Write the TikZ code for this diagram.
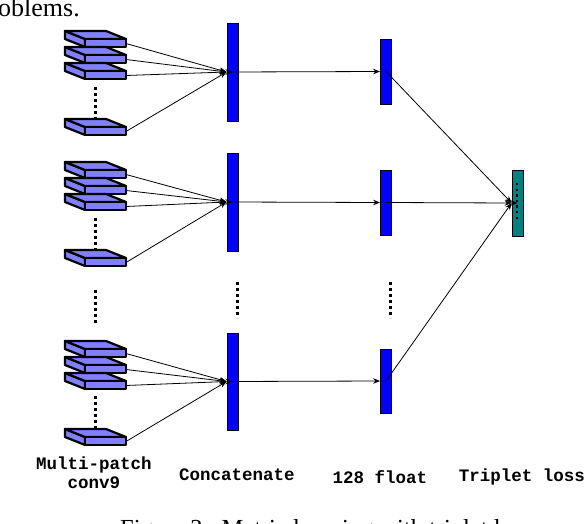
\documentclass[tikz,border=0pt]{standalone}
\usepackage{fontspec}
\setmainfont{Liberation Serif}
\setmonofont{Liberation Mono}
\usetikzlibrary{arrows.meta}

\definecolor{slabblue}{HTML}{8080FF}
\definecolor{barblue}{HTML}{0000FF}
\definecolor{lossteal}{HTML}{008080}

\tikzset{
	slab/.style={fill=slabblue, draw=black, line width=2.2pt, line join=round},
	catbar/.style={draw=black, fill=barblue, line width=0.8pt, inner sep=0pt, minimum width=11pt},
	lossbar/.style={draw=black, fill=lossteal, line width=0.8pt, inner sep=0pt, minimum width=11pt, minimum height=66pt},
	link/.style={->, line width=0.8pt},
	dotcol/.style={line width=3pt, dash pattern=on 3pt off 3pt},
	label/.style={font=\ttfamily\bfseries\fontsize{17.5}{19}\selectfont, align=center},
}

\begin{document}
\begin{tikzpicture}[x=1pt, y=-1pt, >={Stealth[length=7pt,width=5.5pt]}]
	\useasboundingbox (0, 0) rectangle (586, 524);
	\clip (0, 0) rectangle (586, 524);

	% page text cut off above and below
	\node [anchor=base west, inner sep=0pt, font=\fontsize{26}{26}\selectfont] (prev) at (-2, 17) {oblems.};
	\node [anchor=base west, inner sep=0pt, font=\fontsize{24.5}{26}\selectfont] (cap) at (120, 536) {Figure 2:\enspace Metric learning with triplet loss};

	% multi-patch conv9 slabs
	\foreach \t in {39, 55, 71, 127, 170, 186, 202, 258, 349, 365, 381, 437} {
		\filldraw [slab] (65, \t-8) -- (85, \t) -- (85, \t+8) -- (65, \t) -- cycle;
		\filldraw [slab] (65, \t-8) -- (106, \t-8) -- (126, \t) -- (85, \t) -- cycle;
		\filldraw [slab] (85, \t) rectangle (126, \t+8);
		\coordinate (s\t) at (126, \t+4.5);
	}
	\draw [dotcol] (95, 87) -- (95, 118);
	\draw [dotcol] (95, 218) -- (95, 249);
	\draw [dotcol] (95, 396) -- (95, 429);
	\draw [dotcol] (95, 290) -- (95, 326);

	% bars
	\node [catbar, minimum height=98pt] (cat1) at (232.5, 72) {};
	\node [catbar, minimum height=98pt] (cat2) at (232.5, 202) {};
	\node [catbar, minimum height=97pt] (cat3) at (232.5, 381.5) {};
	\node [catbar, minimum height=65pt] (flt1) at (386, 71.5) {};
	\node [catbar, minimum height=65pt] (flt2) at (386, 202.5) {};
	\node [catbar, minimum height=64pt] (flt3) at (386, 381) {};
	\node [lossbar] (trip) at (517.5, 203) {};
	\draw [dotcol] (237, 282) -- (237, 318);
	\draw [dotcol] (390, 282) -- (390, 318);
	\draw [line width=2.4pt, dash pattern=on 2.4pt off 3.2pt] (517, 183) -- (517, 219);

	% connectors
	\foreach \t in {39, 55, 71, 127} \draw [link] (s\t) -- (cat1.west);
	\foreach \t in {170, 186, 202, 258} \draw [link] (s\t) -- (cat2.west);
	\foreach \t in {349, 365, 381, 437} \draw [link] (s\t) -- (cat3.west);
	\foreach \i in {1, 2, 3} {
		\draw [link] (cat\i.west) -- (cat\i.center);
		\draw [link] (cat\i.center) -- (flt\i.west);
		\draw [link] (flt\i.center) -- (trip.west);
	}
	\draw [link] (trip.west) -- (trip.center);

	% labels
	\node [label] (lconv) at (94, 473) {Multi-patch\\conv9};
	\node [label] (lcat) at (237, 475) {Concatenate};
	\node [label] (lflt) at (380, 477) {128 float};
	\node [label] (ltrip) at (522, 477) {Triplet loss};
\end{tikzpicture}
\end{document}
